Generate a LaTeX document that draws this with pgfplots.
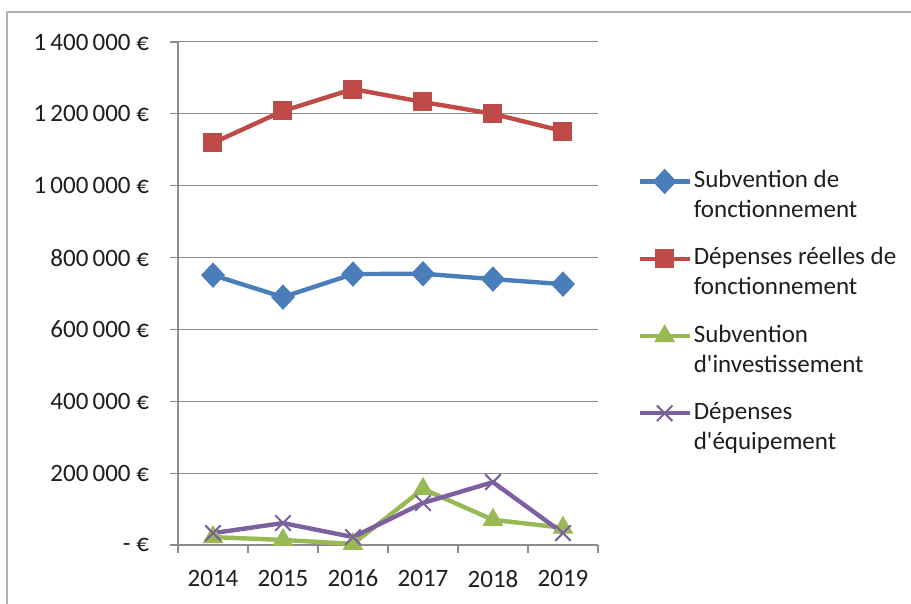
\documentclass[border=0pt]{standalone}
\usepackage{pgfplots}
\pgfplotsset{compat=1.18}
\usepackage{fontspec}
\setmainfont{Carlito}
\definecolor{sblue}{HTML}{4A7EBB}
\definecolor{sred}{HTML}{BE4B48}
\definecolor{sgreen}{HTML}{98B954}
\definecolor{spurple}{HTML}{7D60A0}
\definecolor{gridgray}{HTML}{8C8C8C}
\definecolor{txt}{HTML}{1E1E1E}
\begin{document}
\begin{tikzpicture}[font=\fontsize{12.5}{15}\selectfont, text=txt]
\useasboundingbox (0,0) rectangle (455.5pt,302pt);
\fill[white] (0,0) rectangle (455.5pt,302pt);
\draw[gray!60, line width=1pt] (3.5pt,-1pt) |- (457pt,296pt);
\begin{axis}[
    at={(89pt,29.5pt)}, anchor=south west,
    scale only axis, width=210pt, height=251.5pt,
    xmin=-0.5, xmax=5.5, ymin=0, ymax=1400000,
    clip=false,
    axis lines*=left,
    axis line style={gridgray, line width=0.6pt},
    xtick={0,1,2,3,4,5},
    xticklabels={2014,2015,2016,2017,2018,2019},
    major x tick style={draw=none},
    minor xtick={-0.5,0.5,1.5,2.5,3.5,4.5,5.5},
    minor tick length=4pt,
    major tick length=4pt,
    tick align=outside,
    tick style={gridgray, line width=0.6pt},
    ytick={0,200000,400000,600000,800000,1000000,1200000,1400000},
    yticklabels={- €,200\,000 €,400\,000 €,600\,000 €,800\,000 €,1\,000\,000 €,1\,200\,000 €,1\,400\,000 €},
    scaled y ticks=false,
    yticklabel style={xshift=-7pt},
    xticklabel style={yshift=-5pt},
    ymajorgrids, grid style={gridgray, line width=0.5pt},
    every axis plot/.append style={line width=2.2pt},
    legend style={draw=none, fill=none, at={(1.093,0.754)}, anchor=north west,
        inner sep=0pt, row sep=24.5pt,
        nodes={anchor=base west, inner xsep=1pt, yshift=-3pt}},
    legend image code/.code={\draw[mark repeat=2,mark phase=2,#1] plot coordinates {(0pt,0pt) (12.5pt,0pt) (25pt,0pt)};},
]
\addplot[sblue, mark=diamond*, mark size=6pt, mark options={fill=sblue, line width=0.5pt, xscale=1.25}] coordinates {
    (0,751000) (1,690000) (2,754000) (3,755000) (4,740000) (5,726000)
};
\addlegendentry{\parbox[t]{130pt}{Subvention de\\fonctionnement}}
\addplot[sred, mark=square*, mark size=4.5pt, mark options={fill=sred, line width=0.5pt}] coordinates {
    (0,1119000) (1,1208000) (2,1269000) (3,1233000) (4,1200000) (5,1152000)
};
\addlegendentry{\parbox[t]{130pt}{Dépenses réelles de\\fonctionnement}}
\addplot[sgreen, mark=triangle*, mark size=5.5pt, mark options={fill=sgreen, line width=0.5pt}] coordinates {
    (0,22000) (1,14000) (2,3000) (3,156000) (4,70000) (5,48000)
};
\addlegendentry{\parbox[t]{130pt}{Subvention\\d\textquotesingle investissement}}
\addplot[spurple, mark=x, mark size=5.5pt, mark options={line width=1pt}] coordinates {
    (0,33000) (1,61000) (2,22000) (3,117000) (4,175000) (5,33000)
};
\addlegendentry{\parbox[t]{130pt}{Dépenses\\d\textquotesingle équipement}}
\end{axis}
\end{tikzpicture}
\end{document}
